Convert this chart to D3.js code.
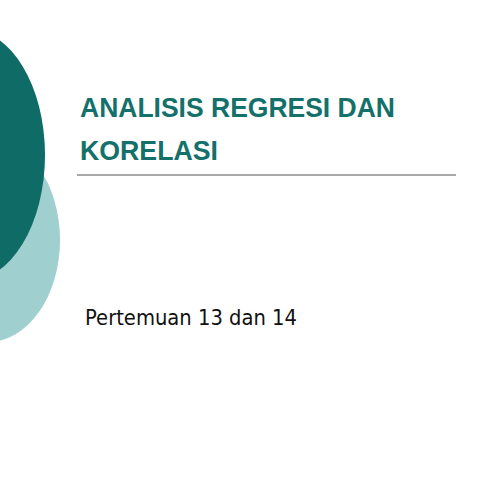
<!DOCTYPE html>
<html><head><meta charset="utf-8">
<script src="https://cdn.jsdelivr.net/npm/d3@7"></script>
<style>body{margin:0;background:#fff}</style>
</head><body><svg id="slide" width="480" height="480"></svg>
<script>
// Slide content
const titleLines = ["ANALISIS REGRESI DAN", "KORELASI"];
const subtitle = "Pertemuan 13 dan 14";

const svg = d3.select("#slide");

// Decorative ellipses on the left edge
svg.append("ellipse")
  .attr("cx", -12).attr("cy", 240).attr("rx", 72).attr("ry", 102)
  .attr("fill", "#9fcfcf");
svg.append("ellipse")
  .attr("cx", -32).attr("cy", 155).attr("rx", 77).attr("ry", 126)
  .attr("fill", "#0e6b66");

// Title
const titleWidths = [315, 138];
svg.selectAll(".title")
  .data(titleLines)
  .join("text")
    .attr("class", "title")
    .attr("x", 80)
    .attr("y", (d, i) => 117 + i * 43)
    .attr("font-family", "Liberation Sans, Arial, sans-serif")
    .attr("font-weight", "bold")
    .attr("font-size", 28)
    .attr("fill", "#14706a")
    .attr("textLength", (d, i) => titleWidths[i])
    .attr("lengthAdjust", "spacingAndGlyphs")
    .text(d => d);

// Rule under title
svg.append("line")
  .attr("x1", 77).attr("x2", 456).attr("y1", 175).attr("y2", 175)
  .attr("stroke", "#555").attr("stroke-width", 1.2);

// Subtitle
svg.append("text")
  .attr("x", 85).attr("y", 325)
  .attr("font-family", "DejaVu Sans, sans-serif")
  .attr("font-size", 21)
  .attr("fill", "#111")
  .attr("textLength", 212)
  .attr("lengthAdjust", "spacingAndGlyphs")
  .text(subtitle);
</script></body></html>
